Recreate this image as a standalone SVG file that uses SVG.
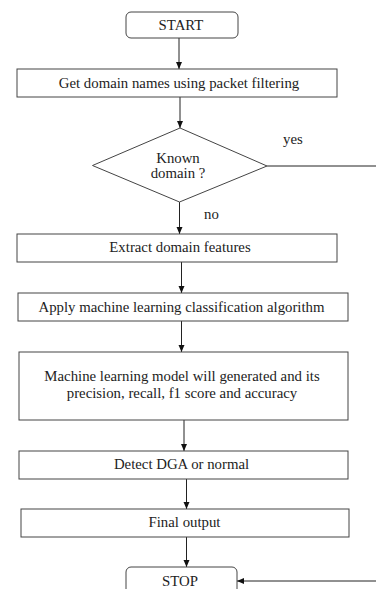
<svg xmlns="http://www.w3.org/2000/svg" width="376" height="589" viewBox="0 0 376 589">
<defs>
<style>
.box{fill:#fff;stroke:#444;stroke-width:1}
.t{font-family:'Liberation Serif','DejaVu Serif','Noto Serif',serif;font-size:14.8px;fill:#222;text-anchor:middle}
.lbl{font-family:'Liberation Serif','DejaVu Serif','Noto Serif',serif;font-size:14.8px;fill:#222}
.c{fill:none;stroke:#222;stroke-width:1}
</style>
<marker id="ah" markerWidth="8" markerHeight="8" refX="7" refY="4" orient="auto" markerUnits="userSpaceOnUse">
<path d="M0,1 L7,4 L0,7 Z" fill="#111"/>
</marker>
</defs>
<rect width="376" height="589" fill="#fff"/>
<g id="connectors">
<line class="c" x1="179" y1="38" x2="179" y2="69" marker-end="url(#ah)"/>
<line class="c" x1="180" y1="97" x2="180" y2="128" marker-end="url(#ah)"/>
<line class="c" x1="179.5" y1="202" x2="179.5" y2="234" marker-end="url(#ah)"/>
<line class="c" x1="181.5" y1="262" x2="181.5" y2="293" marker-end="url(#ah)"/>
<line class="c" x1="181.5" y1="321" x2="181.5" y2="352" marker-end="url(#ah)"/>
<line class="c" x1="184" y1="420" x2="184" y2="451" marker-end="url(#ah)"/>
<line class="c" x1="186.5" y1="479" x2="186.5" y2="509" marker-end="url(#ah)"/>
<line class="c" x1="186.5" y1="537" x2="186.5" y2="567" marker-end="url(#ah)"/>
<polyline class="c" points="267,166 380,166 380,581 237,581" marker-end="url(#ah)"/>
<text class="lbl" x="283" y="144">yes</text>
<text class="lbl" x="204" y="219">no</text>
</g>
<g id="start">
<rect class="box" x="126" y="12" width="112" height="26" rx="5"/>
<text class="t" x="181" y="30">START</text>
</g>
<g id="get-domains">
<rect class="box" x="17" y="69" width="320" height="28"/>
<text class="t" x="179" y="88">Get domain names using packet filtering</text>
</g>
<g id="known-domain">
<polygon class="box" points="180,128 267,166 179.5,202 92.5,165.5"/>
<text class="t" x="178" y="163">Known</text>
<text class="t" x="178" y="178">domain ?</text>
</g>
<g id="extract">
<rect class="box" x="17" y="234" width="320" height="28"/>
<text class="t" x="180" y="252">Extract domain features</text>
</g>
<g id="apply-ml">
<rect class="box" x="18" y="293" width="330" height="28"/>
<text class="t" x="181.5" y="312">Apply machine learning classification algorithm</text>
</g>
<g id="model">
<rect class="box" x="19" y="352" width="329" height="68"/>
<text class="t" x="182" y="381">Machine learning model will generated and its</text>
<text class="t" x="182" y="398">precision, recall, f1 score and accuracy</text>
</g>
<g id="detect">
<rect class="box" x="19" y="451" width="329" height="28"/>
<text class="t" x="181.5" y="469">Detect DGA or normal</text>
</g>
<g id="final">
<rect class="box" x="21" y="509" width="328" height="28"/>
<text class="t" x="184.5" y="527">Final output</text>
</g>
<g id="stop">
<rect class="box" x="126" y="567" width="111" height="30" rx="5"/>
<text class="t" x="180" y="586">STOP</text>
</g>
</svg>
